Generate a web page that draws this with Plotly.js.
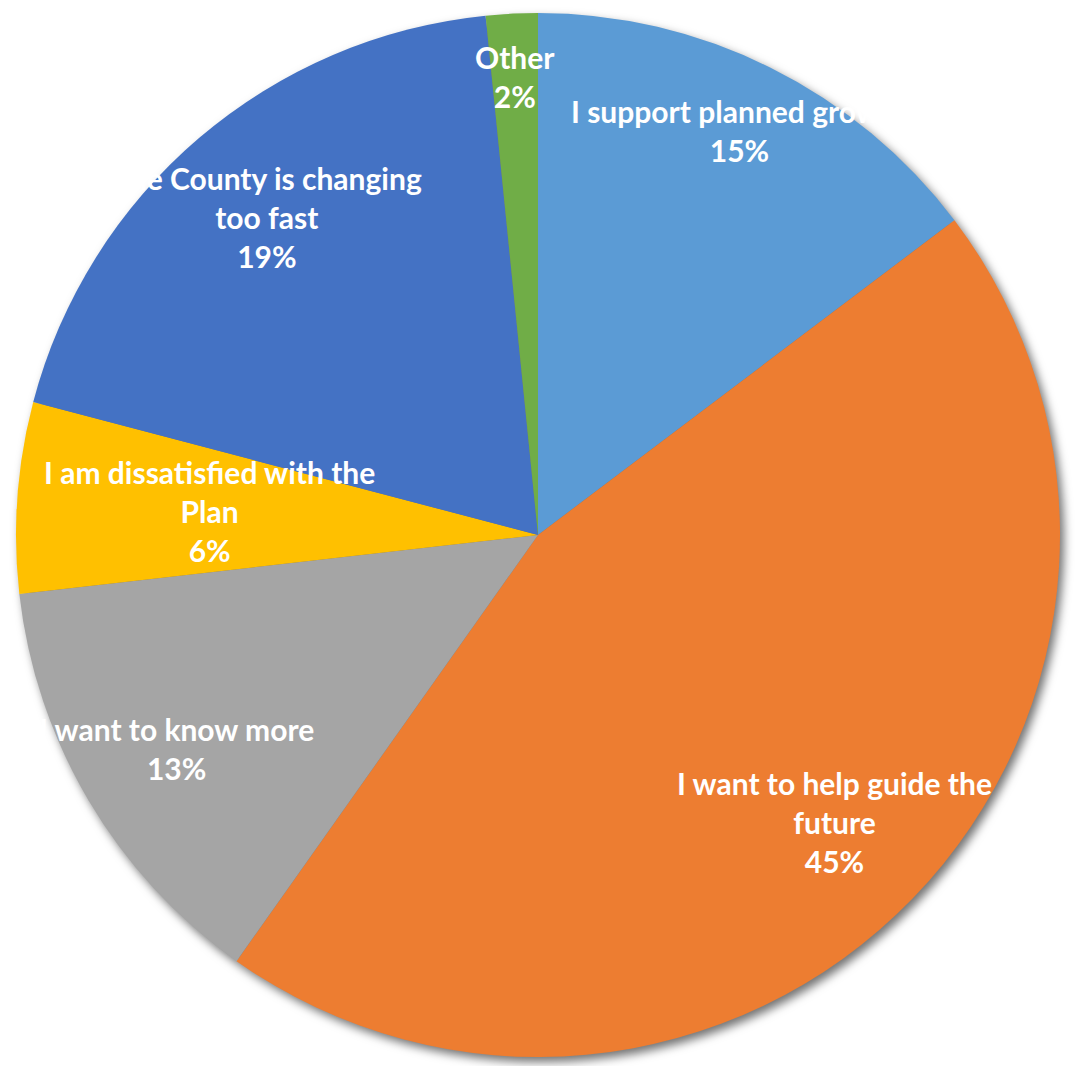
<!DOCTYPE html>
<html>
<head>
<meta charset="utf-8">
<script src="https://cdn.plot.ly/plotly-3.0.1.min.js"></script>
<style>
  html, body { margin: 0; padding: 0; background: #ffffff; }
  #chart { width: 1076px; height: 1066px; }
  #chart .pielayer { filter: drop-shadow(4px 5px 5px rgba(0,0,0,0.55)); }
</style>
</head>
<body>
<div id="chart"></div>
<script>
// ---- data ----
const categories = [
  "I support planned growth",
  "I want to help guide the future",
  "I want to know more",
  "I am dissatisfied with the Plan",
  "The County is changing too fast",
  "Other"
];
const labelLines = [
  "I support planned growth",
  "I want to help guide the<br>future",
  "I want to know more",
  "I am dissatisfied with the<br>Plan",
  "The County is changing<br>too fast",
  "Other"
];
const values = [14.7, 45.1, 13.4, 5.9, 19.3, 1.6];
const colors = ["#5B9BD5", "#ED7D31", "#A5A5A5", "#FFC000", "#4472C4", "#70AD47"];
// label distance from centre, as a fraction of the radius (Excel best-fit placement)
const labelRadius = [0.865, 0.79, 0.805, 0.63, 0.80, 0.88];

// ---- geometry ----
const W = 1076, H = 1066;
const cxPx = 538, cyPx = 535, R = 522;
const domainX = [(cxPx - R) / W, (cxPx + R) / W];
const domainY = [(H - cyPx - R) / H, (H - cyPx + R) / H];

const total = values.reduce((a, b) => a + b, 0);
let cum = 0;
const annotations = values.map((v, i) => {
  const mid = (cum + v / 2) / total * 2 * Math.PI;
  cum += v;
  const r = R * labelRadius[i];
  const px = cxPx + r * Math.sin(mid);
  const py = cyPx - r * Math.cos(mid);
  const pct = Math.round(v / total * 100);
  return {
    xref: "paper", yref: "paper",
    x: px / W, y: 1 - py / H,
    xanchor: "center", yanchor: "middle",
    text: labelLines[i] + "<br>" + pct + "%",
    showarrow: false,
    align: "center",
    font: { family: "Lato, 'Open Sans', sans-serif", size: 30, color: "#ffffff", weight: "bold" }
  };
});

const trace = {
  type: "pie",
  labels: categories,
  values: values,
  sort: false,
  direction: "clockwise",
  rotation: 0,
  marker: { colors: colors, line: { width: 0 } },
  textinfo: "none",
  hoverinfo: "label+percent",
  domain: { x: domainX, y: domainY },
  showlegend: false
};

const layout = {
  width: W, height: H,
  margin: { l: 0, r: 0, t: 0, b: 0 },
  paper_bgcolor: "#ffffff",
  plot_bgcolor: "#ffffff",
  showlegend: false,
  annotations: annotations
};

Plotly.newPlot("chart", [trace], layout, { displayModeBar: false, staticPlot: true });
</script>
</body>
</html>
